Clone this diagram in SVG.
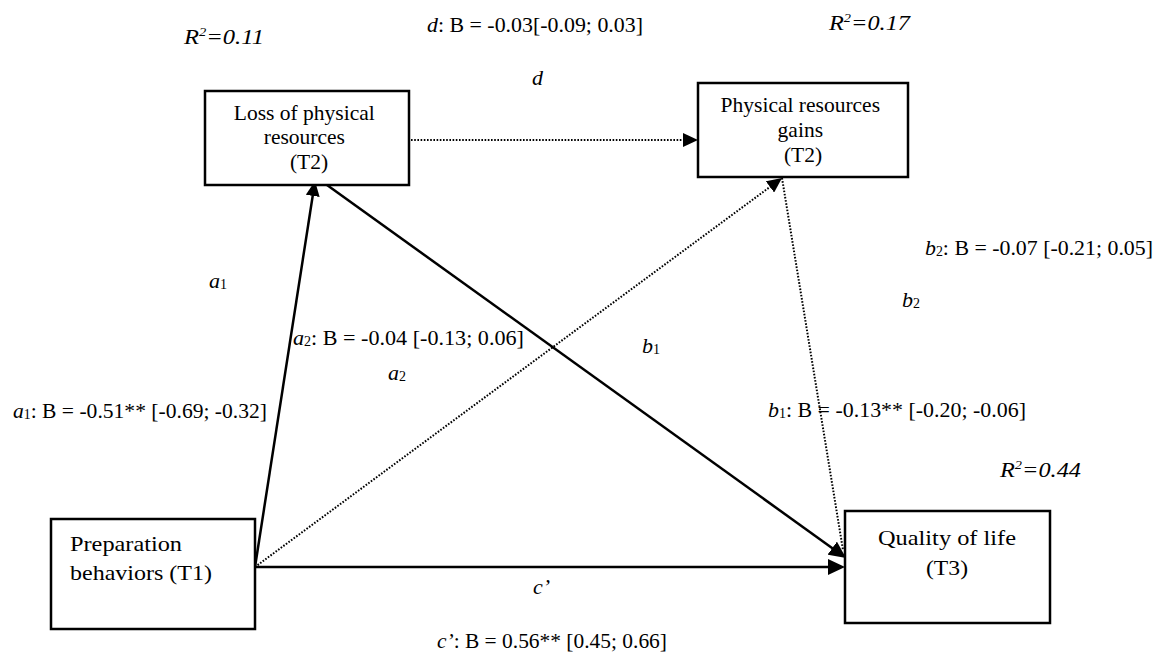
<svg xmlns="http://www.w3.org/2000/svg" width="1155" height="652" viewBox="0 0 1155 652">
  <style>
    .box { fill: #ffffff; stroke: #000000; stroke-width: 2.5; }
    .node-text { font-size: 21.5px; fill: #000000; }
    .node-big { font-size: 22px; fill: #000000; }
    .lbl { font-size: 22px; fill: #000000; }
    .it { font-style: italic; }
    .solid { stroke: #000000; stroke-width: 2.5; fill: none; }
    .dotted { stroke: #000000; stroke-width: 2; fill: none; stroke-dasharray: 1.6 1.6; }
  </style>
  <defs>
    <marker id="arrow" markerUnits="userSpaceOnUse" markerWidth="16" markerHeight="14" refX="11" refY="7" orient="auto">
      <path d="M0,0 L15,7 L0,14 z" fill="#000000"/>
    </marker>
    <marker id="arrowBig" markerUnits="userSpaceOnUse" markerWidth="18" markerHeight="16" refX="13" refY="8" orient="auto">
      <path d="M0,0 L17,8 L0,16 z" fill="#000000"/>
    </marker>
  </defs>
  <rect width="1155" height="652" fill="#ffffff"/>

  <g id="connectors">
    <line id="edge-a1" class="solid" x1="255" y1="567" x2="314.4" y2="185" marker-end="url(#arrow)"/>
    <line id="edge-d" class="dotted" x1="411" y1="140" x2="694" y2="140" marker-end="url(#arrow)"/>
    <line id="edge-a2" class="dotted" x1="255" y1="567" x2="778.8" y2="180.4" marker-end="url(#arrow)"/>
    <line id="edge-b2" class="dotted" x1="782" y1="178" x2="843" y2="550"/>
    <line id="edge-b1" class="solid" x1="327" y1="185" x2="842.8" y2="555.7" marker-end="url(#arrowBig)"/>
    <line id="edge-c" class="solid" x1="255" y1="567" x2="841" y2="567" marker-end="url(#arrowBig)"/>
  </g>

  <g font-family="'Liberation Serif', 'Times New Roman', Times, serif">
  <g id="node-loss">
    <rect class="box" x="205" y="91" width="204" height="94"/>
    <text class="node-text" text-anchor="middle">
      <tspan x="307" y="120">Loss of physical</tspan>
      <tspan x="307" y="144">resources</tspan>
      <tspan x="309" y="169">(T2)</tspan>
    </text>
  </g>

  <g id="node-gains">
    <rect class="box" x="698" y="83" width="210" height="94"/>
    <text class="node-text" text-anchor="middle">
      <tspan x="803" y="112">Physical resources</tspan>
      <tspan x="803" y="137">gains</tspan>
      <tspan x="803" y="162">(T2)</tspan>
    </text>
  </g>

  <g id="node-prep">
    <rect class="box" x="51" y="519" width="204" height="110"/>
    <text class="node-big" x="70" y="551" textLength="112" lengthAdjust="spacingAndGlyphs">Preparation</text>
    <text class="node-big" x="70" y="580" textLength="142" lengthAdjust="spacingAndGlyphs">behaviors (T1)</text>
  </g>

  <g id="node-qol">
    <rect class="box" x="845" y="511" width="205" height="112"/>
    <text class="node-big" x="878" y="545" textLength="138" lengthAdjust="spacingAndGlyphs">Quality of life</text>
    <text class="node-big" x="926" y="575" textLength="42" lengthAdjust="spacingAndGlyphs">(T3)</text>
  </g>

  <g id="labels">
    <text class="lbl it" x="184" y="44" textLength="80" lengthAdjust="spacingAndGlyphs">R<tspan font-size="13" dy="-8">2</tspan><tspan dy="8">=0.11</tspan></text>
    <text class="lbl it" x="829" y="30" textLength="81" lengthAdjust="spacingAndGlyphs">R<tspan font-size="13" dy="-8">2</tspan><tspan dy="8">=0.17</tspan></text>
    <text class="lbl it" x="1000" y="477" textLength="81" lengthAdjust="spacingAndGlyphs">R<tspan font-size="13" dy="-8">2</tspan><tspan dy="8">=0.44</tspan></text>

    <text class="lbl" x="427" y="32" textLength="216" lengthAdjust="spacingAndGlyphs"><tspan class="it">d</tspan>: B = -0.03[-0.09; 0.03]</text>
    <text class="lbl it" x="532" y="85">d</text>

    <text class="lbl it" x="209" y="288">a<tspan font-size="14" font-style="normal" dy="1">1</tspan></text>
    <text class="lbl" x="13" y="418" textLength="254" lengthAdjust="spacingAndGlyphs"><tspan class="it">a</tspan><tspan font-size="14" dy="1">1</tspan><tspan dy="-1">: B = -0.51** [-0.69; -0.32]</tspan></text>

    <text class="lbl" x="293" y="345" textLength="231" lengthAdjust="spacingAndGlyphs"><tspan class="it">a</tspan><tspan font-size="14" dy="1">2</tspan><tspan dy="-1">: B = -0.04 [-0.13; 0.06]</tspan></text>
    <text class="lbl it" x="388" y="380">a<tspan font-size="14" font-style="normal" dy="1">2</tspan></text>

    <text class="lbl it" x="642" y="353">b<tspan font-size="14" font-style="normal" dy="1">1</tspan></text>
    <text class="lbl" x="768" y="417" textLength="258" lengthAdjust="spacingAndGlyphs"><tspan class="it">b</tspan><tspan font-size="14" dy="1">1</tspan><tspan dy="-1">: B = -0.13** [-0.20; -0.06]</tspan></text>

    <text class="lbl" x="925" y="255" textLength="228" lengthAdjust="spacingAndGlyphs"><tspan class="it">b</tspan><tspan font-size="14" dy="1">2</tspan><tspan dy="-1">: B = -0.07 [-0.21; 0.05]</tspan></text>
    <text class="lbl it" x="902" y="307">b<tspan font-size="14" font-style="normal" dy="1">2</tspan></text>

    <text class="lbl it" x="533" y="594">c’</text>
    <text class="lbl" x="437" y="648" textLength="230" lengthAdjust="spacingAndGlyphs"><tspan class="it">c’</tspan>: B = 0.56** [0.45; 0.66]</text>
  </g>
  </g>
</svg>
